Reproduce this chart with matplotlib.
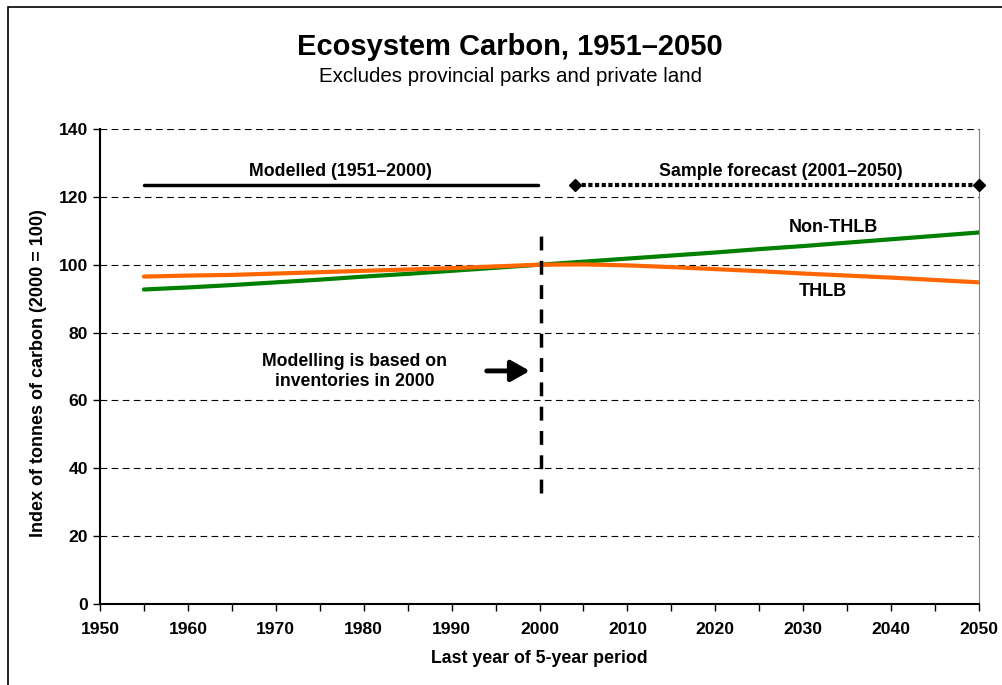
import numpy as np
import matplotlib.pyplot as plt
from matplotlib.patches import Rectangle
from matplotlib.ticker import MultipleLocator

plt.rcParams['font.family'] = ['Liberation Sans', 'DejaVu Sans']

# 5-year periods, last year of each
years = [1955, 1960, 1965, 1970, 1975, 1980, 1985, 1990, 1995, 2000,
         2005, 2010, 2015, 2020, 2025, 2030, 2035, 2040, 2045, 2050]
non_thlb = [92.7, 93.3, 94.0, 94.8, 95.6, 96.5, 97.3, 98.2, 99.1, 100.0,
            100.9, 101.8, 102.7, 103.6, 104.6, 105.5, 106.5, 107.5, 108.5, 109.5]
thlb = [96.5, 96.8, 97.0, 97.4, 97.8, 98.2, 98.6, 99.0, 99.5, 100.0,
        100.1, 99.8, 99.3, 98.7, 98.1, 97.4, 96.8, 96.2, 95.5, 94.8]

modelled_span = [1955, 1999.8]
forecast_span = [2004, 2050]
span_level = 123.5

fig = plt.figure(figsize=(10.03, 6.85), dpi=100)
fig.patches.append(Rectangle((8 / 1003, -0.05), 1.1, 1 - 7 / 685 + 0.05,
                             transform=fig.transFigure, fill=False,
                             edgecolor='black', linewidth=1.2))
ax = fig.add_axes([0.0997, 0.1182, 0.8764, 0.6935])

ax.plot(years, non_thlb, color='#008000', linewidth=3, solid_capstyle='round', zorder=3)
ax.plot(years, thlb, color='#FF6600', linewidth=3, solid_capstyle='round', zorder=3)

# period bars
ax.plot(modelled_span, [span_level, span_level], color='black', linewidth=2.5,
        solid_capstyle='round', zorder=3)
ax.plot(forecast_span, [span_level, span_level], color='black', linewidth=3,
        linestyle=(0, (1, 0.6)), marker='D', markersize=6, zorder=3, clip_on=False)
ax.text(np.mean(modelled_span), 127.5, 'Modelled (1951–2000)', ha='center', va='center',
        fontsize=12.8, fontweight='bold')
ax.text(2027.5, 127.5, 'Sample forecast (2001–2050)', ha='center', va='center',
        fontsize=12.8, fontweight='bold')

# inventory marker
ax.plot([2000.2, 2000.2], [32.7, 109.5], color='black', linewidth=2.5,
        linestyle=(0, (4, 3)), zorder=4)
ax.annotate('', xy=(1998.9, 68.7), xytext=(1994.0, 68.7),
            arrowprops=dict(arrowstyle='-|>,head_length=0.8,head_width=0.45',
                            color='black', linewidth=3.5, mutation_scale=14,
                            shrinkA=0, shrinkB=0))
ax.text(1979, 68.5, 'Modelling is based on\ninventories in 2000', ha='center', va='center',
        fontsize=12.7, fontweight='bold', linespacing=1.25)

ax.text(2033.4, 111.0, 'Non-THLB', ha='center', va='center', fontsize=13, fontweight='bold')
ax.text(2032.2, 92.2, 'THLB', ha='center', va='center', fontsize=13, fontweight='bold')

ax.set_xlim(1950, 2050)
ax.set_ylim(0, 140)
ax.xaxis.set_major_locator(MultipleLocator(10))
ax.xaxis.set_minor_locator(MultipleLocator(5))
ax.yaxis.set_major_locator(MultipleLocator(20))
ax.tick_params(axis='both', which='both', direction='out', length=5, width=1, labelsize=12.6)
ax.tick_params(axis='x', which='minor', length=5)
ax.tick_params(axis='x', pad=8)
for lbl in ax.get_xticklabels() + ax.get_yticklabels():
    lbl.set_fontweight('bold')

ax.grid(axis='y', color='black', linestyle=(0, (6, 4)), linewidth=0.8)
ax.set_axisbelow(True)
ax.spines['top'].set_visible(False)
ax.spines['right'].set_color('#808080')
ax.spines['left'].set_linewidth(1.5)
ax.spines['bottom'].set_linewidth(1.5)

ax.set_xlabel('Last year of 5-year period', fontsize=12.8, fontweight='bold', labelpad=9)
ax.set_ylabel('Index of tonnes of carbon (2000 = 100)', fontsize=13, fontweight='bold')
ax.yaxis.label.set_va('center')
ax.yaxis.set_label_coords(-0.0705, 0.487)

fig.text(0.508, 0.932, 'Ecosystem Carbon, 1951–2050', ha='center', va='center',
         fontsize=21, fontweight='bold')
fig.text(0.509, 0.888, 'Excludes provincial parks and private land', ha='center',
         va='center', fontsize=14.8)

fig.savefig('out.png', dpi=100)
